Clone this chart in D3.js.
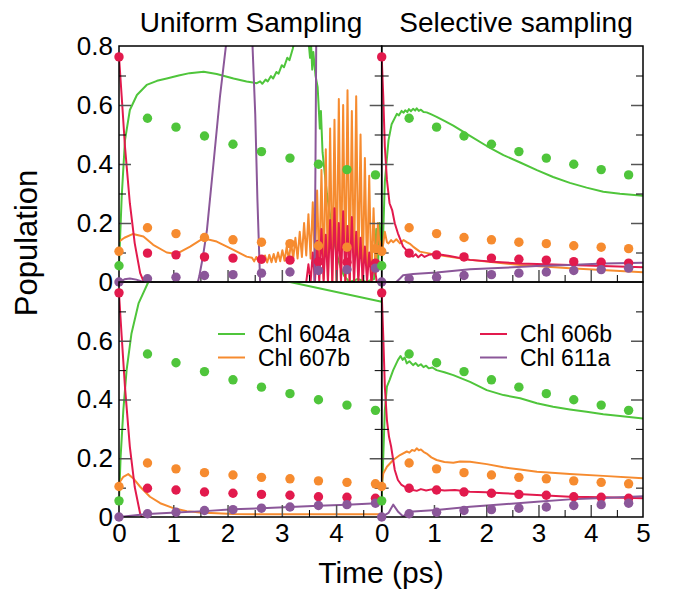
<!DOCTYPE html>
<html>
<head>
<meta charset="utf-8">
<script src="https://cdn.jsdelivr.net/npm/d3@7"></script>
<style>
  body { margin: 0; background: #fff; }
  svg { display: block; font-family: "Liberation Sans", Arial, Helvetica, sans-serif; }
</style>
</head>
<body>
<script>
// reference points (dots), same in every panel
var dotTimes = [0, 0.525, 1.05, 1.575, 2.1, 2.625, 3.15, 3.675, 4.2, 4.725];
var dots604a = [0.055, 0.555, 0.525, 0.495, 0.467, 0.442, 0.42, 0.399, 0.381, 0.363];
var dots607b = [0.104, 0.184, 0.164, 0.151, 0.143, 0.135, 0.13, 0.123, 0.118, 0.113];
var dots606b = [0.763, 0.098, 0.092, 0.085, 0.081, 0.077, 0.074, 0.069, 0.067, 0.064];
var dots611a = [0, 0.011, 0.016, 0.022, 0.025, 0.03, 0.034, 0.039, 0.042, 0.047];

// Uniform sampling, top
var uniTopGreen = [[0,0.055],[0.05,0.29],[0.11,0.48],[0.2,0.583],[0.33,0.634],[0.51,0.668],[0.7,0.682],[0.88,0.69],[1.1,0.7],[1.3,0.708],[1.56,0.713],[1.8,0.705],[2.11,0.69],[2.35,0.68],[2.54,0.674],[2.6,0.68],[2.64,0.672],[2.7,0.686],[2.74,0.68],[2.8,0.698],[2.84,0.69],[2.9,0.712],[2.94,0.706],[3.0,0.735],[3.04,0.728],[3.1,0.76],[3.14,0.752],[3.2,0.79],[3.25,0.83],[3.4,0.86],[3.5,0.8],[3.52,0.76],[3.54,0.8],[3.56,0.72],[3.58,0.78],[3.62,0.7],[3.66,0.66],[3.7,0.52],[3.72,0.58],[3.75,0.44],[3.79,0.37],[3.83,0.3],[3.87,0.25],[3.92,0.19],[3.97,0.13],[4.02,0.09],[4.08,0.05],[4.15,0.02],[4.25,0.0],[4.4,0.01],[4.55,0.0],[4.7,0.01],[4.74,0.18],[4.77,0.04],[4.8,0.2],[4.84,0.12]];
var uniTopOrange = [[0,0.137],[0.1,0.15],[0.26,0.163],[0.45,0.154],[0.63,0.126],[0.88,0.1],[1.06,0.095],[1.31,0.12],[1.55,0.148],[1.8,0.137],[2.11,0.109],[2.35,0.086],[2.45,0.082],[2.49,0.07],[2.53,0.085],[2.57,0.068],[2.61,0.088],[2.65,0.066],[2.69,0.09],[2.73,0.066],[2.77,0.092],[2.81,0.067],[2.85,0.095],[2.89,0.068],[2.93,0.1],[2.97,0.07],[3.01,0.108],[3.05,0.072],[3.09,0.12],[3.13,0.075],[3.17,0.135],[3.21,0.078],[3.25,0.15],[3.29,0.08],[3.33,0.17],[3.37,0.085],[3.41,0.2],[3.45,0.09],[3.49,0.23],[3.53,0.08],[3.57,0.27],[3.61,0.06],[3.65,0.31],[3.69,0.03],[3.73,0.38],[3.77,0.01],[3.81,0.45],[3.85,0.0],[3.89,0.52],[3.93,0.0],[3.97,0.55],[4.01,0.0],[4.05,0.62],[4.09,0.0],[4.13,0.6],[4.17,0.0],[4.21,0.65],[4.25,0.0],[4.29,0.58],[4.33,0.0],[4.37,0.63],[4.41,0.02],[4.45,0.5],[4.49,0.0],[4.53,0.42],[4.57,0.02],[4.61,0.36],[4.65,0.0],[4.69,0.25],[4.73,0.03],[4.77,0.2],[4.81,0.1],[4.84,0.14]];
var uniTopRed = [[0,0.764],[0.05,0.628],[0.11,0.459],[0.2,0.267],[0.29,0.131],[0.39,0.03],[0.48,-0.01],[3.42,-0.01],[3.45,0.0],[3.49,0.06],[3.53,0.0],[3.57,0.1],[3.61,0.0],[3.65,0.14],[3.69,0.0],[3.73,0.18],[3.77,0.0],[3.81,0.16],[3.85,0.0],[3.89,0.21],[3.93,0.0],[3.97,0.25],[4.01,0.0],[4.05,0.2],[4.09,0.0],[4.13,0.24],[4.17,0.0],[4.21,0.19],[4.25,0.0],[4.29,0.22],[4.33,0.0],[4.37,0.17],[4.41,0.0],[4.45,0.15],[4.49,0.0],[4.53,0.12],[4.57,0.0],[4.61,0.1],[4.65,0.0],[4.7,0.06],[4.75,0.0],[4.84,-0.01]];
var uniTopPurple = [[0,0],[0.1,0.009],[0.2,0.012],[0.32,0.008],[0.45,0],[0.5,-0.01],[1.44,-0.01],[1.48,0.02],[1.55,0.09],[1.62,0.176],[1.74,0.4],[1.86,0.628],[1.97,0.8],[2.1,0.95],[2.3,0.95],[2.46,0.8],[2.51,0.57],[2.55,0.28],[2.6,0],[2.62,-0.01],[3.6,-0.01],[3.62,0.4],[3.64,1.0],[4.84,1.0]];

// Uniform sampling, bottom
var uniBotGreen = [[0,0.055],[0.03,0.205],[0.08,0.364],[0.14,0.5],[0.23,0.625],[0.36,0.727],[0.54,0.8],[1.0,0.86],[2.0,0.86],[3.15,0.8],[4.84,0.733]];
var uniBotOrange = [[0,0.115],[0.08,0.137],[0.17,0.146],[0.26,0.132],[0.39,0.103],[0.57,0.069],[0.76,0.047],[1.0,0.03],[1.25,0.02],[1.49,0.015],[2.1,0.01],[2.72,0.009],[4.84,0.009]];
var uniBotRed = [[0,0.761],[0.05,0.613],[0.11,0.443],[0.2,0.239],[0.29,0.102],[0.39,0.011],[0.45,-0.01],[4.84,-0.01]];
var uniBotPurple = [[0,0],[0.525,0.01],[1.05,0.015],[1.575,0.02],[2.1,0.026],[2.625,0.03],[3.15,0.034],[3.675,0.038],[4.2,0.042],[4.84,0.048]];

// Selective sampling, top
var selTopGreen = [[0,0.063],[0.03,0.17],[0.06,0.34],[0.13,0.48],[0.19,0.535],[0.29,0.57],[0.33,0.565],[0.38,0.58],[0.42,0.574],[0.45,0.582],[0.49,0.576],[0.52,0.586],[0.56,0.579],[0.6,0.587],[0.64,0.581],[0.67,0.589],[0.71,0.58],[0.75,0.584],[0.8,0.576],[0.86,0.575],[0.95,0.568],[1.05,0.56],[1.2,0.546],[1.37,0.53],[1.69,0.495],[2.01,0.461],[2.33,0.43],[2.65,0.405],[2.97,0.379],[3.28,0.356],[3.6,0.336],[3.92,0.32],[4.24,0.306],[4.56,0.299],[5.0,0.292]];
var selTopOrange = [[0,0.105],[0.03,0.13],[0.06,0.17],[0.1,0.135],[0.13,0.131],[0.18,0.142],[0.22,0.135],[0.28,0.145],[0.35,0.131],[0.42,0.142],[0.48,0.135],[0.55,0.128],[0.6,0.12],[0.73,0.103],[1.05,0.092],[1.69,0.075],[2.65,0.058],[3.6,0.047],[5.0,0.033]];
var selTopRed = [[0,0.764],[0.03,0.628],[0.06,0.459],[0.1,0.346],[0.15,0.267],[0.2,0.244],[0.25,0.199],[0.31,0.165],[0.41,0.12],[0.5,0.103],[0.55,0.09],[0.6,0.086],[0.65,0.094],[0.7,0.084],[0.76,0.093],[0.82,0.085],[0.9,0.092],[1.05,0.095],[1.3,0.088],[1.69,0.075],[2.2,0.068],[2.65,0.063],[3.6,0.058],[5.0,0.05]];
var selTopPurple = [[0,0],[0.25,-0.005],[0.35,0.012],[0.41,0.023],[0.6,0.027],[1.05,0.032],[1.69,0.043],[2.33,0.048],[2.97,0.054],[3.6,0.058],[4.24,0.063],[5.0,0.065]];

// Selective sampling, bottom
var selBotGreen = [[0,0.058],[0.03,0.205],[0.06,0.364],[0.1,0.444],[0.15,0.466],[0.22,0.5],[0.31,0.534],[0.36,0.548],[0.4,0.535],[0.44,0.543],[0.48,0.523],[0.53,0.53],[0.6,0.517],[0.65,0.524],[0.7,0.514],[0.75,0.52],[0.8,0.51],[0.85,0.515],[0.9,0.506],[0.97,0.509],[1.05,0.5],[1.2,0.493],[1.37,0.483],[1.69,0.46],[2.01,0.432],[2.33,0.415],[2.65,0.404],[2.97,0.387],[3.28,0.375],[3.6,0.366],[3.92,0.358],[4.24,0.35],[4.56,0.344],[5.0,0.335]];
var selBotOrange = [[0,0.115],[0.03,0.148],[0.1,0.171],[0.22,0.194],[0.35,0.211],[0.48,0.223],[0.53,0.219],[0.58,0.228],[0.63,0.225],[0.67,0.234],[0.71,0.227],[0.75,0.23],[0.8,0.222],[0.86,0.216],[0.95,0.203],[1.05,0.194],[1.2,0.187],[1.37,0.185],[1.5,0.189],[1.69,0.188],[2.01,0.18],[2.33,0.169],[2.65,0.162],[2.97,0.154],[3.6,0.146],[4.24,0.14],[5.0,0.132]];
var selBotRed = [[0,0.764],[0.03,0.614],[0.06,0.444],[0.1,0.33],[0.14,0.273],[0.18,0.24],[0.25,0.16],[0.31,0.126],[0.38,0.109],[0.5,0.097],[0.6,0.092],[0.67,0.089],[0.75,0.095],[0.85,0.09],[0.95,0.094],[1.05,0.094],[1.2,0.09],[1.4,0.092],[1.69,0.086],[2.0,0.084],[2.33,0.081],[2.97,0.075],[3.6,0.069],[4.24,0.067],[5.0,0.064]];
var selBotPurple = [[0,0],[0.13,0.014],[0.22,0.042],[0.31,0.019],[0.41,0.002],[0.5,0.014],[0.6,0.019],[1.05,0.024],[1.69,0.035],[2.33,0.043],[2.97,0.052],[3.6,0.06],[4.24,0.065],[5.0,0.071]];

var seriesNames = ['Chl 604a', 'Chl 607b', 'Chl 606b', 'Chl 611a'];
var colors = ['#4fc53b', '#f68b2f', '#e21a4d', '#8b5799'];
var dotSets = [dots604a, dots607b, dots606b, dots611a];

var svg = d3.select('body').append('svg')
  .attr('width', 675)
  .attr('height', 593);

var xL = d3.scaleLinear().domain([0, 4.84]).range([119, 381.7]);
var xR = d3.scaleLinear().domain([0, 5]).range([381.7, 643]);
var yT = d3.scaleLinear().domain([0, 0.8]).range([282, 46]);
var yB = d3.scaleLinear().domain([0, 0.8]).range([517, 282]);

var panels = [
  {id: 'ut', x: xL, y: yT, lines: [uniTopGreen, uniTopOrange, uniTopRed, uniTopPurple]},
  {id: 'st', x: xR, y: yT, lines: [selTopGreen, selTopOrange, selTopRed, selTopPurple]},
  {id: 'ub', x: xL, y: yB, lines: [uniBotGreen, uniBotOrange, uniBotRed, uniBotPurple]},
  {id: 'sb', x: xR, y: yB, lines: [selBotGreen, selBotOrange, selBotRed, selBotPurple]}
];

function noDomain(g) { g.select('.domain').remove(); }

panels.forEach(function(p) {
  var x0 = p.x.range()[0], x1 = p.x.range()[1];
  var y0 = p.y.range()[0], y1 = p.y.range()[1];
  var g = svg.append('g');

  g.append('clipPath').attr('id', 'clip-' + p.id)
    .append('rect')
    .attr('x', x0).attr('y', y1)
    .attr('width', x1 - x0).attr('height', y0 - y1);

  var line = d3.line()
    .x(function(d) { return p.x(d[0]); })
    .y(function(d) { return p.y(d[1]); });

  g.append('g').attr('clip-path', 'url(#clip-' + p.id + ')')
    .selectAll('path')
    .data(p.lines)
    .join('path')
    .attr('d', line)
    .attr('fill', 'none')
    .attr('stroke', function(d, i) { return colors[i]; })
    .attr('stroke-width', 2)
    .attr('stroke-linejoin', 'round');

  // ticks, all inward
  var xMax = p.x.domain()[1];
  var xMajor = d3.range(1, Math.floor(xMax - 0.01) + 1);
  var xMinor = d3.range(0.5, xMax, 1);
  var yMajor = [0.2, 0.4, 0.6];
  var yMinor = [0.1, 0.3, 0.5, 0.7];

  function tickSet(axis, tx, ty, vals, size, col, w) {
    g.append('g')
      .attr('transform', 'translate(' + tx + ',' + ty + ')')
      .call(axis.tickValues(vals).tickSize(size).tickFormat(''))
      .call(noDomain)
      .selectAll('line').attr('stroke', col).attr('stroke-width', w);
  }
  tickSet(d3.axisRight(p.y), x0, 0, yMajor, 12, '#555', 1.5);
  tickSet(d3.axisRight(p.y), x0, 0, yMinor, 7, '#000', 1);
  tickSet(d3.axisLeft(p.y), x1, 0, yMajor, 12, '#555', 1.5);
  tickSet(d3.axisLeft(p.y), x1, 0, yMinor, 7, '#000', 1);
  tickSet(d3.axisTop(p.x), 0, y0, xMajor, 12, '#555', 1.5);
  tickSet(d3.axisTop(p.x), 0, y0, xMinor, 7, '#000', 1);

  g.append('rect')
    .attr('x', x0).attr('y', y1)
    .attr('width', x1 - x0).attr('height', y0 - y1)
    .attr('fill', 'none')
    .attr('stroke', '#000')
    .attr('stroke-width', 1.5);

  // reference dots
  dotSets.forEach(function(vals, i) {
    g.append('g').selectAll('circle')
      .data(vals)
      .join('circle')
      .attr('cx', function(d, k) { return p.x(dotTimes[k]); })
      .attr('cy', function(d) { return p.y(d); })
      .attr('r', 4.7)
      .attr('fill', colors[i]);
  });
});

// tick labels
function styleLabels(g) {
  g.select('.domain').remove();
  g.attr('font-family', null).attr('font-size', null);
  g.selectAll('text').attr('font-size', 26).attr('fill', '#000');
}
var yFmt = d3.format('.1~f');
svg.append('g').attr('transform', 'translate(119,0)')
  .call(d3.axisLeft(yT).tickValues([0, 0.2, 0.4, 0.6, 0.8]).tickSize(0).tickPadding(6).tickFormat(yFmt))
  .call(styleLabels);
svg.append('g').attr('transform', 'translate(119,0)')
  .call(d3.axisLeft(yB).tickValues([0, 0.2, 0.4, 0.6]).tickSize(0).tickPadding(6).tickFormat(yFmt))
  .call(styleLabels);
svg.append('g').attr('transform', 'translate(0,517)')
  .call(d3.axisBottom(xL).tickValues([0, 1, 2, 3, 4]).tickSize(0).tickPadding(7).tickFormat(d3.format('d')))
  .call(styleLabels);
svg.append('g').attr('transform', 'translate(0,517)')
  .call(d3.axisBottom(xR).tickValues([0, 1, 2, 3, 4, 5]).tickSize(0).tickPadding(7).tickFormat(d3.format('d')))
  .call(styleLabels);

// titles
svg.append('text').text('Uniform Sampling')
  .attr('x', 251).attr('y', 32).attr('text-anchor', 'middle').attr('font-size', 28);
svg.append('text').text('Selective sampling')
  .attr('x', 516).attr('y', 32).attr('text-anchor', 'middle').attr('font-size', 28);
svg.append('text').text('Time (ps)')
  .attr('x', 381).attr('y', 583).attr('text-anchor', 'middle').attr('font-size', 30);
svg.append('text').text('Population')
  .attr('transform', 'translate(37,243) rotate(-90)')
  .attr('text-anchor', 'middle').attr('font-size', 31);

// legends
var legends = [
  {x: 218, items: [0, 1]},
  {x: 480, items: [2, 3]}
];
var legendRows = [334, 357.5];
legends.forEach(function(lg) {
  lg.items.forEach(function(s, r) {
    svg.append('line')
      .attr('x1', lg.x).attr('x2', lg.x + 27)
      .attr('y1', legendRows[r]).attr('y2', legendRows[r])
      .attr('stroke', colors[s]).attr('stroke-width', 2);
    svg.append('text').text(seriesNames[s])
      .attr('x', lg.x + 40).attr('y', legendRows[r] + 8)
      .attr('font-size', 23);
  });
});
</script>
</body>
</html>
